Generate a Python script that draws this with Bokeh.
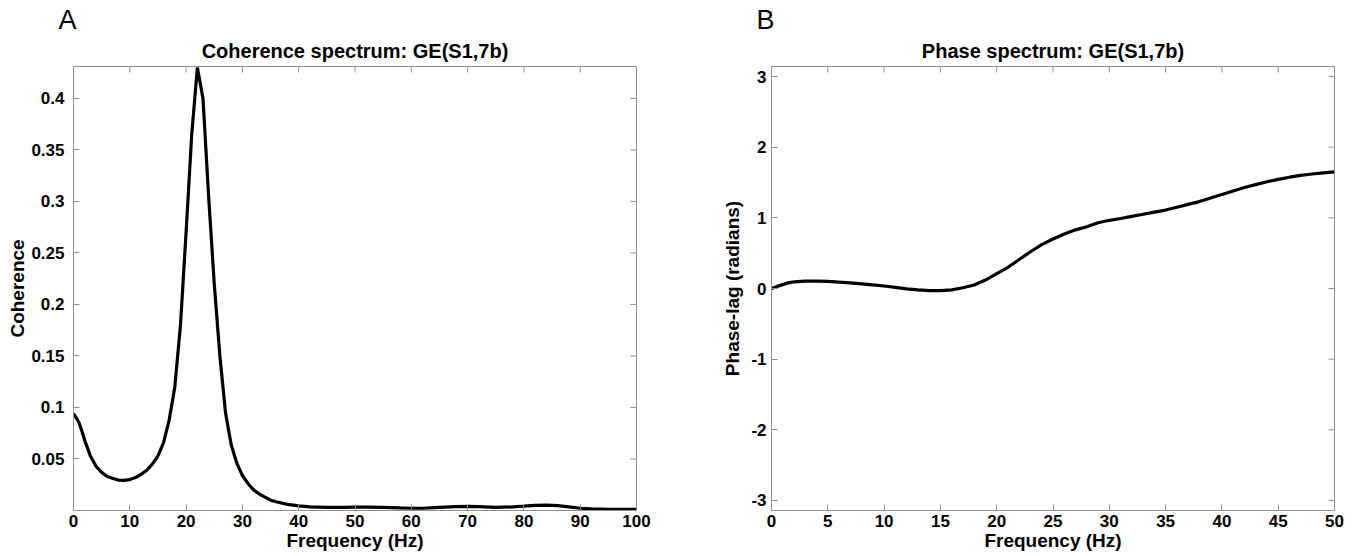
from bokeh.plotting import figure
from bokeh.layouts import row
from bokeh.models import FixedTicker, Title, Range1d, NumeralTickFormatter
from bokeh.embed import file_html
from bokeh.resources import INLINE
import math

# ---------------- data ----------------
coh_freq = [0, 0.5, 1, 1.5, 2, 3, 4, 5, 6, 7, 8, 9, 10, 11, 12, 13, 14, 15, 16,
            17, 18, 19, 20, 21, 22, 23, 24, 25, 26, 27, 28, 29, 30, 31, 32, 33,
            34, 35, 36, 38, 40, 42, 45, 48, 50, 52, 55, 58, 60, 62, 65, 68, 70,
            72, 75, 78, 80, 82, 84, 86, 88, 90, 92, 95, 100]
coh_vals = [0.094, 0.090, 0.085, 0.077, 0.068, 0.053, 0.043, 0.037, 0.033, 0.031,
            0.0295, 0.0293, 0.030, 0.032, 0.035, 0.039, 0.045, 0.053, 0.066,
            0.088, 0.12, 0.18, 0.27, 0.365, 0.43, 0.40, 0.305, 0.22, 0.15, 0.095,
            0.064, 0.046, 0.034, 0.026, 0.020, 0.016, 0.013, 0.010, 0.0085, 0.006,
            0.0045, 0.0035, 0.003, 0.003, 0.0032, 0.0033, 0.003, 0.0025, 0.0022,
            0.0022, 0.003, 0.0038, 0.004, 0.0037, 0.003, 0.0035, 0.0042, 0.005,
            0.0053, 0.0048, 0.0035, 0.0022, 0.0015, 0.0012, 0.001]

phase_freq = [0, 0.5, 1, 1.5, 2, 3, 4, 5, 6, 7, 8, 9, 10, 11, 12, 13, 14, 15, 16,
              17, 18, 19, 20, 21, 22, 23, 24, 25, 26, 27, 28, 29, 30, 31, 32, 33,
              34, 35, 36, 37, 38, 39, 40, 41, 42, 43, 44, 45, 46, 47, 48, 49, 50]
phase_vals = [0.0, 0.03, 0.055, 0.08, 0.095, 0.105, 0.105, 0.10, 0.09, 0.08, 0.065,
              0.05, 0.035, 0.015, -0.005, -0.02, -0.03, -0.03, -0.02, 0.01, 0.05,
              0.12, 0.21, 0.30, 0.41, 0.52, 0.62, 0.70, 0.77, 0.83, 0.875, 0.93,
              0.965, 0.99, 1.02, 1.05, 1.08, 1.11, 1.15, 1.19, 1.23, 1.28, 1.33,
              1.38, 1.43, 1.47, 1.51, 1.545, 1.575, 1.60, 1.62, 1.635, 1.65]

coh_xticks = [0, 10, 20, 30, 40, 50, 60, 70, 80, 90, 100]
coh_yticks = [0.05, 0.1, 0.15, 0.2, 0.25, 0.3, 0.35, 0.4]
phase_xticks = [0, 5, 10, 15, 20, 25, 30, 35, 40, 45, 50]
phase_yticks = [-3, -2, -1, 0, 1, 2, 3]

FONT = "Liberation Sans"
GRAY = "#8f8f8f"


def make_fig(title, letter, xr, yr, xticks, yticks, xlabel, ylabel,
             mb_left, mb_right, ytick_standoff, ylab_standoff):
    p = figure(frame_width=563, frame_height=444,
               x_range=Range1d(*xr), y_range=Range1d(*yr),
               output_backend="svg", toolbar_location=None, title=None,
               min_border_left=mb_left, min_border_right=mb_right,
               min_border_top=66, min_border_bottom=46,
               background_fill_color="white", border_fill_color="white")
    p.grid.visible = False
    p.outline_line_color = GRAY
    p.outline_line_width = 1

    xa = p.xaxis[0]
    ya = p.yaxis[0]
    xa.ticker = FixedTicker(ticks=xticks)
    ya.ticker = FixedTicker(ticks=yticks)
    ya.formatter = NumeralTickFormatter(format="0.[00]")
    for ax in (xa, ya):
        ax.axis_line_color = GRAY
        ax.major_tick_line_color = GRAY
        ax.major_tick_in = 6
        ax.major_tick_out = 0
        ax.minor_tick_line_color = None
        ax.major_label_text_font = FONT
        ax.major_label_text_font_style = "bold"
        ax.major_label_text_font_size = "17px"
        ax.major_label_text_color = "black"
        ax.axis_label_text_font = FONT
        ax.axis_label_text_font_style = "bold"
        ax.axis_label_text_font_size = "19px"
        ax.axis_label_text_color = "black"
    xa.axis_label = xlabel
    ya.axis_label = ylabel
    xa.major_label_standoff = 4
    xa.axis_label_standoff = 0
    ya.major_label_standoff = ytick_standoff
    ya.axis_label_standoff = ylab_standoff

    # mirrored inward tick marks on the top and right edges of the box
    p.ray(x=xticks, y=[yr[1]] * len(xticks), length=6, length_units="screen",
          angle=-math.pi / 2, line_color=GRAY, line_width=1)
    p.ray(x=[xr[1]] * len(yticks), y=yticks, length=6, length_units="screen",
          angle=math.pi, line_color=GRAY, line_width=1)

    p.add_layout(Title(text=title, align="center", text_font=FONT,
                       text_font_style="bold", text_font_size="20px",
                       text_color="black", standoff=9), "above")
    p.add_layout(Title(text=letter, align="left", offset=-15, text_font=FONT,
                       text_font_style="normal", text_font_size="27px",
                       text_color="black", standoff=-3), "above")
    return p


p1 = make_fig("Coherence spectrum: GE(S1,7b)", "A", (0, 100), (0, 0.431),
              coh_xticks, coh_yticks, "Frequency (Hz)", "Coherence",
              73, 40, 9, 0)
p1.line(coh_freq, coh_vals, line_color="black", line_width=3.2)

p2 = make_fig("Phase spectrum: GE(S1,7b)", "B", (0, 50), (-math.pi, math.pi),
              phase_xticks, phase_yticks, "Frequency (Hz)", "Phase-lag (radians)",
              95, 18, 5, 5)
p2.line(phase_freq, phase_vals, line_color="black", line_width=3.2)

layout = row(p1, p2)
open("out.html", "w").write(file_html(layout, INLINE))
